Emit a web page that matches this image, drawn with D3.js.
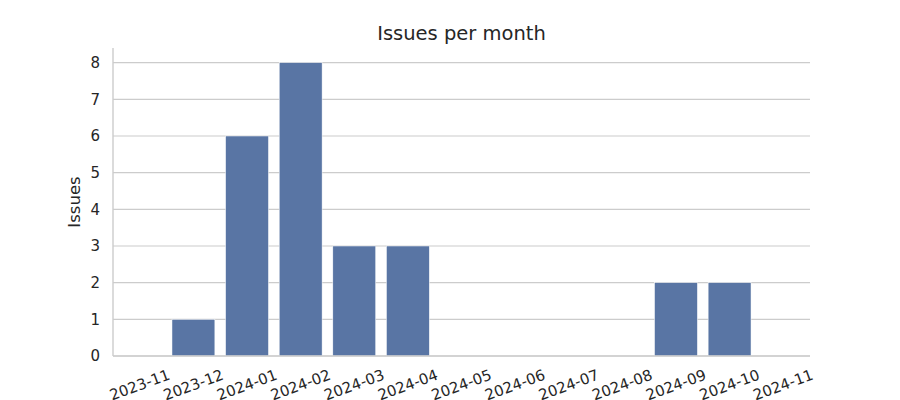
<!DOCTYPE html>
<html>
<head>
<meta charset="utf-8">
<script src="https://cdn.jsdelivr.net/npm/d3@7"></script>
<style>
  body { margin: 0; background: #fff; }
  text { font-family: "DejaVu Sans", sans-serif; fill: #262626; }
</style>
</head>
<body>
<svg id="chart" width="900" height="400"></svg>
<script>
const months = ["2023-11","2023-12","2024-01","2024-02","2024-03","2024-04","2024-05","2024-06","2024-07","2024-08","2024-09","2024-10","2024-11"];
const issues = [0,1,6,8,3,3,0,0,0,0,2,2,0];
const yTicks = [0,1,2,3,4,5,6,7,8];
const title = "Issues per month";
const yLabel = "Issues";

const svg = d3.select("#chart");
const mLeft = 113, mRight = 810, mTop = 48, mBottom = 356;

const x = d3.scaleBand().domain(months).range([mLeft, mRight]).paddingInner(0).paddingOuter(0);
const y = d3.scaleLinear().domain([0, 8.4]).range([mBottom, mTop]);

// grid
svg.append("g").selectAll("line").data(yTicks).join("line")
  .attr("x1", mLeft).attr("x2", mRight)
  .attr("y1", d => y(d)).attr("y2", d => y(d))
  .attr("stroke", "#cccccc").attr("stroke-width", 1.1);

// bars
const bw = x.bandwidth() * 0.8;
svg.append("g").selectAll("rect").data(months.map((m, i) => ({m, v: issues[i]})).filter(d => d.v > 0)).join("rect")
  .attr("x", d => x(d.m) + (x.bandwidth() - bw) / 2)
  .attr("y", d => y(d.v))
  .attr("width", bw)
  .attr("height", d => y(0) - y(d.v))
  .attr("fill", "#5975a4")
  .attr("stroke", "#ffffff").attr("stroke-width", 0.5);

// spines
svg.append("line").attr("x1", mLeft).attr("x2", mLeft).attr("y1", mTop).attr("y2", mBottom)
  .attr("stroke", "#cccccc").attr("stroke-width", 1.4);
svg.append("line").attr("x1", mLeft).attr("x2", mRight).attr("y1", mBottom).attr("y2", mBottom)
  .attr("stroke", "#cccccc").attr("stroke-width", 1.4);

// y tick labels
const yAxis = d3.axisLeft(y).tickValues(yTicks).tickSize(0).tickPadding(13).tickFormat(d3.format("d"));
const gy = svg.append("g").attr("transform", `translate(${mLeft},0)`).call(yAxis);
gy.select(".domain").remove();
gy.selectAll("text").style("font-size", "15px").style("font-family", "DejaVu Sans").attr("fill", "#262626");

// x tick labels
const xAxis = d3.axisBottom(x).tickSize(0).tickPadding(0);
const gx = svg.append("g").attr("transform", `translate(0,${mBottom})`).call(xAxis);
gx.select(".domain").remove();
gx.selectAll("text")
  .style("font-size", "15px").style("font-family", "DejaVu Sans").attr("fill", "#262626")
  .attr("y", 0).attr("dy", null)
  .attr("dominant-baseline", "central")
  .attr("text-anchor", "middle")
  .attr("transform", "translate(0,29) rotate(-20)");

// title
svg.append("text").attr("x", (mLeft + mRight) / 2).attr("y", 40)
  .attr("text-anchor", "middle").style("font-size", "19.5px").text(title);

// y label
svg.append("text").attr("transform", `translate(80,${(mTop + mBottom) / 2}) rotate(-90)`)
  .attr("text-anchor", "middle").style("font-size", "16.5px").text(yLabel);
</script>
</body>
</html>
